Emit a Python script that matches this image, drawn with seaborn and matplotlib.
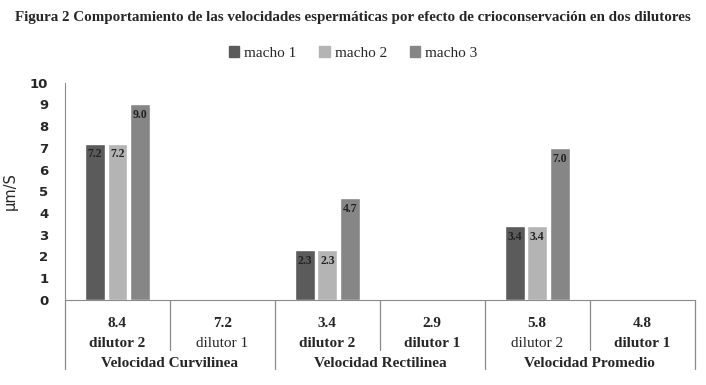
import numpy as np
import pandas as pd
import seaborn as sns
import matplotlib.pyplot as plt
import matplotlib.transforms as mtransforms

# datos
grupos = ['Velocidad Curvilinea', 'Velocidad Rectilinea', 'Velocidad Promedio']
dilutores = ['dilutor 2', 'dilutor 1']
valores_dilutor = ['8.4', '7.2', '3.4', '2.9', '5.8', '4.8']
machos = ['macho 1', 'macho 2', 'macho 3']
macho1 = [7.2, np.nan, 2.3, np.nan, 3.4, np.nan]
macho2 = [7.2, np.nan, 2.3, np.nan, 3.4, np.nan]
macho3 = [9.0, np.nan, 4.7, np.nan, 7.0, np.nan]
colores = ['#5b5b5b', '#b4b4b4', '#868686']
# peso de la etiqueta "dilutor" en cada columna (como en el original)
peso_dilutor = ['bold', 'normal', 'bold', 'bold', 'normal', 'bold']

slots = [f'{g}|{d}' for g in grupos for d in dilutores]
df = pd.DataFrame({'slot': slots, 'macho 1': macho1, 'macho 2': macho2, 'macho 3': macho3})
df = df.melt(id_vars='slot', var_name='macho', value_name='v').dropna()

sns.set_style('white')
plt.rcParams['font.family'] = ['DejaVu Sans']

fig = plt.figure(figsize=(7.06, 3.85), dpi=100)
ax = fig.add_axes([0.092, 0.221, 0.892, 0.564])

sns.barplot(data=df, x='slot', y='v', hue='macho', order=slots, hue_order=machos,
            palette=colores, width=0.64, gap=0.12, ax=ax, saturation=1, legend=False)

for cont in ax.containers:
    ax.bar_label(cont, fmt='%.1f', padding=-12, fontsize=8.5, fontweight='bold',
                 family='Liberation Serif', color='#222222')

ax.set_ylim(0, 10)
ax.set_xlim(-0.5, len(slots) - 0.5)
ax.set_yticks(range(0, 11))
ax.tick_params(axis='y', length=0, labelsize=9.5, pad=12)
for t in ax.get_yticklabels():
    t.set_fontweight('bold')
ax.set_ylabel('µm/S', fontsize=10.5)
ax.yaxis.set_label_coords(-0.075, 0.5)
ax.set_xlabel('')
ax.set_xticks([])

for s in ['top', 'right']:
    ax.spines[s].set_visible(False)
ax.spines['left'].set_color('#8a8a8a')
ax.spines['bottom'].set_color('#8a8a8a')

# etiquetas multinivel del eje x
trans = mtransforms.blended_transform_factory(ax.transData, ax.transAxes)
for i, s in enumerate(slots):
    g, d = s.split('|')
    ax.text(i, -0.11, valores_dilutor[i], transform=trans, ha='center', va='center',
            fontsize=11, fontweight='bold', family='Liberation Serif')
    ax.text(i, -0.2, d, transform=trans, ha='center', va='center',
            fontsize=11, fontweight=peso_dilutor[i], family='Liberation Serif')
for j, g in enumerate(grupos):
    ax.text(2 * j + 0.5, -0.295, g, transform=trans, ha='center', va='center',
            fontsize=11, fontweight='bold', family='Liberation Serif')

for k in range(len(slots) + 1):
    x = k - 0.5
    bottom = -0.32 if k % 2 == 0 else -0.23
    ax.plot([x, x], [0, bottom], transform=trans, color='#8a8a8a', lw=0.9, clip_on=False)

fig.text(0.5, 0.955, 'Figura 2 Comportamiento de las velocidades espermáticas por efecto de crioconservación en dos dilutores',
         ha='center', va='center', fontsize=10.8, fontweight='bold', family='Liberation Serif')

handles = [plt.Rectangle((0, 0), 1, 1, color=c) for c in colores]
fig.legend(handles, machos, loc='center', bbox_to_anchor=(0.5, 0.862), ncol=3, frameon=False,
           prop={'family': 'Liberation Serif', 'size': 11}, handlelength=0.7, handleheight=0.7,
           handletextpad=0.3, columnspacing=1.5)

fig.savefig('out.png', dpi=100)
